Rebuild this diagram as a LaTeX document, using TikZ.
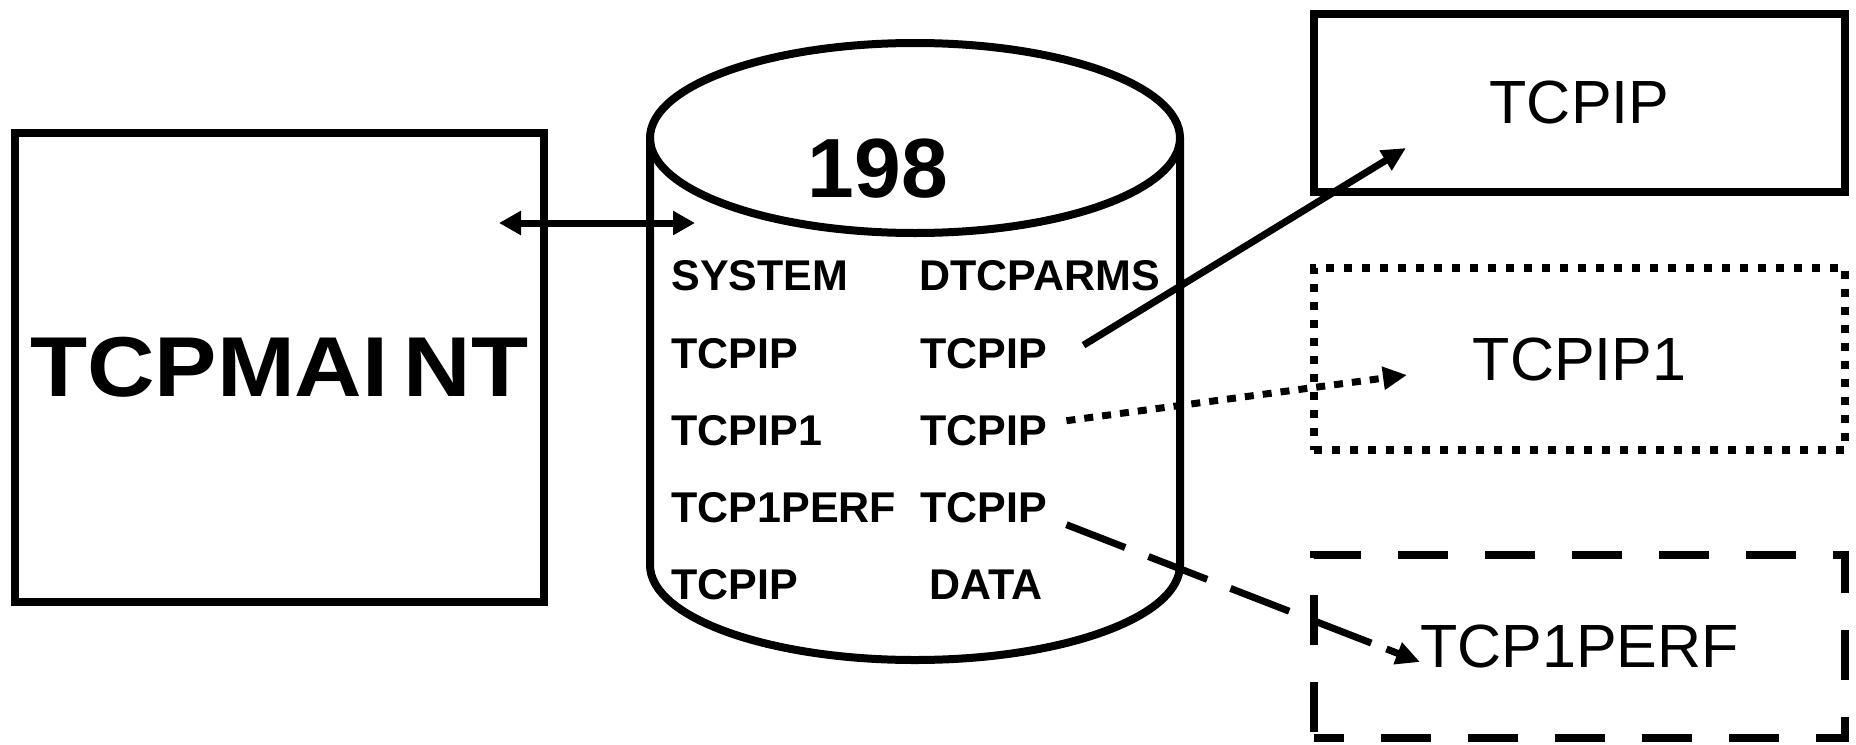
\documentclass[tikz,border=0pt]{standalone}
\usepackage{fontspec}
\setmainfont{Liberation Sans}
\usetikzlibrary{arrows.meta,calc}
\begin{document}
\begin{tikzpicture}[x=0.5pt,y=-0.5pt,
  boxline/.style={draw, line width=4pt, inner sep=0pt},
  bigbox/.style={boxline, minimum width=265.5pt},
  cyl/.style={line width=4pt},
  celltext/.style={anchor=base west, inner sep=0pt, font=\bfseries\fontsize{21.5pt}{24pt}\selectfont},
  boxtext/.style={font=\fontsize{30.5pt}{34pt}\selectfont},
  tipR/.style={-{Triangle[length=12pt,width=11pt]}},
  conn/.style={line width=3.5pt}]
\useasboundingbox (0,0) rectangle (1856,744);

% TCPMAINT box
\node[boxline, minimum width=264.75pt, minimum height=234.5pt,
      font=\bfseries\fontsize{42.5pt}{46pt}\selectfont] (maint) at (279.25,367.5)
  {\scalebox{1.1}[1]{TCPMAI\kern 7pt NT}};

% cylinder
\draw[cyl] (650,138) -- (650,565) arc[start angle=180, end angle=0, x radius=265, y radius=95] -- (1180,138);
\draw[cyl] (915,138) ellipse[x radius=265, y radius=95];
\node[anchor=base, inner sep=0pt, font=\bfseries\fontsize{42pt}{46pt}\selectfont] (n198) at (878,197) {198};

% cylinder contents
\node[celltext] (r1a) at (671,290) {SYSTEM};
\node[celltext] (r1b) at (919,290) {DTCPARMS};
\node[celltext] (r2a) at (671,368) {TCPIP};
\node[celltext] (r2b) at (920,368) {TCPIP};
\node[celltext] (r3a) at (671,445) {TCPIP1};
\node[celltext] (r3b) at (920,445) {TCPIP};
\node[celltext] (r4a) at (671,522) {TCP1PERF};
\node[celltext] (r4b) at (920,522) {TCPIP};
\node[celltext] (r5a) at (671,599) {TCPIP};
\node[celltext] (r5b) at (929,599) {DATA};

% right boxes
\node[bigbox, minimum height=89pt, boxtext] (bx1) at (1579.5,103) {TCPIP};
\node[bigbox, minimum height=91pt, boxtext, dash pattern=on 4pt off 5pt] (bx2) at (1579.5,359) {TCPIP1};
\node[bigbox, minimum height=91.5pt, boxtext, dash pattern=on 25pt off 18.5pt, dash phase=10pt] (bx3) at (1579.5,646.5) {TCP1PERF};

% double arrow
\coordinate (dl) at (499,223);
\coordinate (dr) at (695,223);
\draw[conn, {Triangle[length=11pt,width=11.5pt]}-{Triangle[length=11pt,width=11.5pt]}] (dl) -- (dr);

% connectors
\coordinate (t1) at (1406,148);
\coordinate (t2) at (1407,375);
\coordinate (t3) at (1420,662);
\coordinate (s3) at ($(r4b.east)+(19,17.5)$);
\coordinate (b3) at ($(s3)!0.905!(t3)$);
\draw[conn, tipR] ($(r2b.east)+(36,-8)$) -- (t1);
\draw[conn, tipR, dash pattern=on 4.5pt off 4.5pt] ($(r3b.east)+(19,-9.5)$) -- (t2);
\draw[conn, dash pattern=on 31.5pt off 12.5pt] (s3) -- (b3);
\draw[conn, tipR] (b3) -- (t3);
\end{tikzpicture}
\end{document}
